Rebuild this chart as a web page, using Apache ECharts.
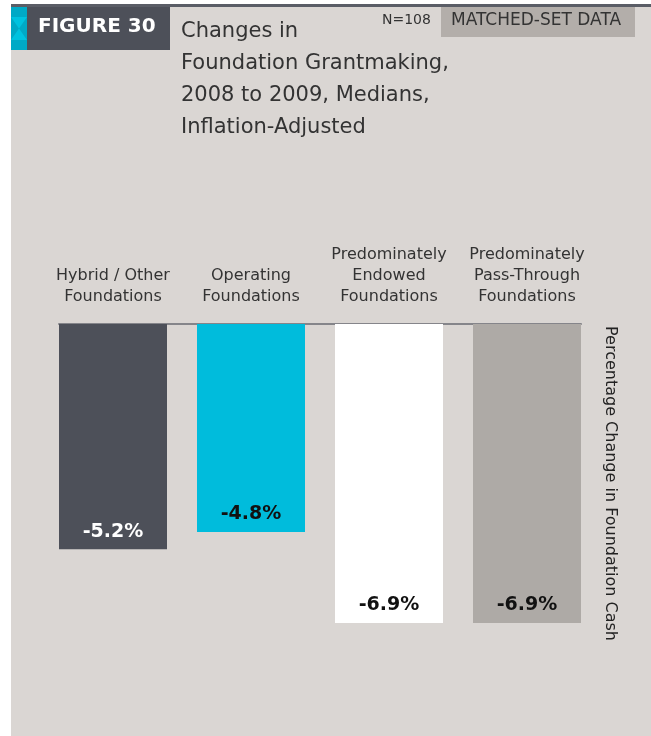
<!DOCTYPE html>
<html>
<head>
<meta charset="utf-8">
<script src="https://cdn.jsdelivr.net/npm/echarts@6/dist/echarts.min.js"></script>
<style>
  html, body { margin: 0; padding: 0; background: #ffffff; }
  #chart { width: 651px; height: 736px; }
</style>
</head>
<body>
<div id="chart"></div>
<script>
// Foundation types and median change in grantmaking, 2008 to 2009 (inflation-adjusted, %)
const categories = [
  'Hybrid / Other\nFoundations',
  'Operating\nFoundations',
  'Predominately\nEndowed\nFoundations',
  'Predominately\nPass-Through\nFoundations'
];
const changes = [-5.2, -4.8, -6.9, -6.9];

const barColors = ['#4d5059', '#00bcdc', '#ffffff', '#aeaaa6'];
const labelColors = ['#ffffff', '#111111', '#111111', '#111111'];

const FONT = '"DejaVu Sans", "Noto Sans", sans-serif';
const PANEL = '#dad6d3';
const DARK = '#4d5059';

const chart = echarts.init(document.getElementById('chart'), null, { renderer: 'canvas' });

chart.setOption({
  backgroundColor: '#ffffff',
  animation: false,
  textStyle: { fontFamily: FONT },
  graphic: [
    // panel and header
    { type: 'rect', z: -10, shape: { x: 11, y: 4, width: 640, height: 732 }, style: { fill: PANEL } },
    { type: 'rect', z: -9, shape: { x: 11, y: 4, width: 640, height: 3 }, style: { fill: '#5a5d66' } },
    { type: 'rect', z: -9, shape: { x: 27, y: 7, width: 143, height: 43 }, style: { fill: DARK } },
    { type: 'rect', z: -9, shape: { x: 11, y: 7, width: 16, height: 43 }, style: { fill: '#00a9c6' } },
    { type: 'polygon', z: -8, shape: { points: [[11, 17], [27, 17], [19, 28.5], [27, 40], [11, 40], [19, 28.5]] }, style: { fill: '#00c2df' } },
    { type: 'text', z: -7, left: 38, top: 17, style: { text: 'FIGURE 30', fill: '#ffffff', font: 'bold 20px ' + FONT } },
    { type: 'text', z: -7, left: 181, top: 16, style: {
        text: 'Changes in\nFoundation Grantmaking,\n2008 to 2009, Medians,\nInflation-Adjusted',
        fill: '#333333', font: '21px ' + FONT, lineHeight: 32 } },
    { type: 'rect', z: -9, shape: { x: 441, y: 7, width: 194, height: 30 }, style: { fill: '#b3aeaa' } },
    { type: 'text', z: -7, left: 382, top: 13, style: { text: 'N=108', fill: '#333333', font: '14px ' + FONT } },
    { type: 'text', z: -7, left: 451, top: 12, style: { text: 'MATCHED-SET DATA', fill: '#333333', font: '17px ' + FONT } }
  ],
  grid: [
    { left: 44, width: 552, top: 324, height: 299 },
    { left: 59, width: 522, top: 323, height: 1 }
  ],
  xAxis: [
    {
      type: 'category', gridIndex: 0, position: 'top', data: categories,
      axisLine: { show: false }, axisTick: { show: false },
      axisLabel: {
        interval: 0, margin: 17, color: '#333333', fontSize: 16, lineHeight: 21,
        fontFamily: FONT, verticalAlign: 'bottom'
      }
    },
    {
      type: 'category', gridIndex: 1, position: 'top', data: categories,
      axisLine: { show: true, lineStyle: { color: '#85858a', width: 2 } },
      axisTick: { show: false }, axisLabel: { show: false }
    }
  ],
  yAxis: [
    {
      type: 'value', gridIndex: 0, min: -6.9, max: 0, position: 'right',
      axisLine: { show: false }, axisTick: { show: false }, axisLabel: { show: false },
      splitLine: { show: false },
      name: 'Percentage Change in Foundation Cash', nameLocation: 'middle', nameRotate: -90,
      nameGap: 6,
      nameTextStyle: { color: '#222222', fontSize: 16, fontFamily: FONT, padding: [0, 0, 0, 20] }
    },
    { type: 'value', gridIndex: 1, show: false }
  ],
  series: [
    {
      type: 'bar', xAxisIndex: 0, yAxisIndex: 0, barWidth: 108,
      data: changes.map((v, i) => ({
        value: v,
        itemStyle: { color: barColors[i] },
        label: { color: labelColors[i] }
      })),
      label: {
        show: true, position: 'insideBottom', distance: 8,
        fontSize: 19, fontWeight: 'bold', fontFamily: FONT,
        formatter: p => p.value.toFixed(1) + '%'
      }
    }
  ]
});
</script>
</body>
</html>
